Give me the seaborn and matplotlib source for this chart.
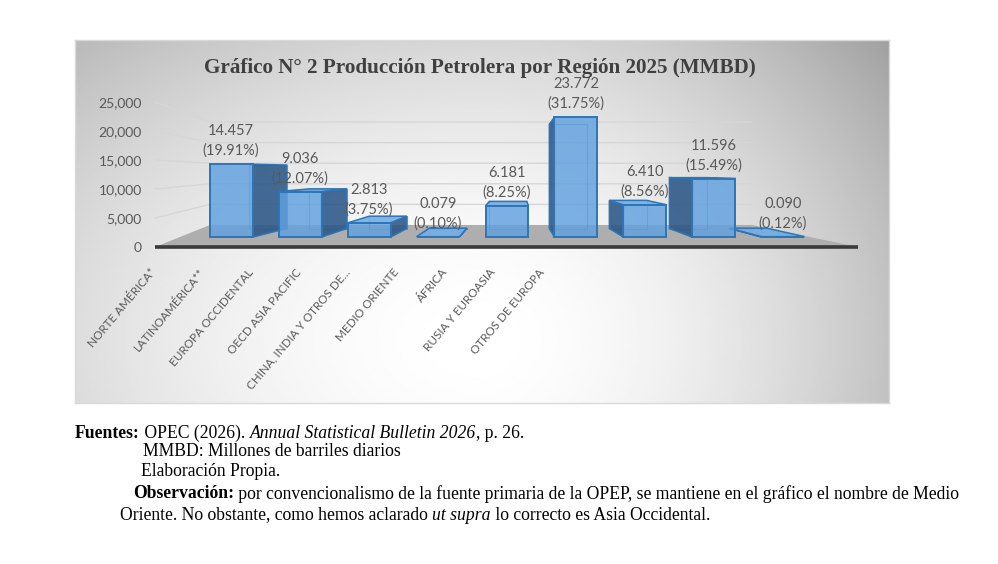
import numpy as np
import matplotlib
matplotlib.use('Agg')
import matplotlib.pyplot as plt
from matplotlib.patches import Polygon, Rectangle
import seaborn as sns

# ---- data (miles de barriles diarios) ----
regions = ["NORTE AMÉRICA*", "LATINOAMÉRICA**", "EUROPA OCCIDENTAL", "OECD ASIA PACIFIC",
           "CHINA, INDIA Y OTROS DE...", "MEDIO ORIENTE", "ÁFRICA", "RUSIA Y EUROASIA",
           "OTROS DE EUROPA"]
production = [14457, 9036, 2813, 79, 6181, 23772, 6410, 11596, 90]
shares = [19.91, 12.07, 3.75, 0.10, 8.25, 31.75, 8.56, 15.49, 0.12]
y_ticks = [0, 5000, 10000, 15000, 20000, 25000]

title = "Gráfico N° 2 Producción Petrolera por Región 2025 (MMBD)"

# ---- look ----
FRONT = (0.38, 0.63, 0.88, 0.82)
TOPC = (0.45, 0.68, 0.90, 0.9)
SIDE = (0.17, 0.34, 0.53, 0.88)
EDGE = '#2E75B6'
GREY_TXT = '#595959'

W, H = 998, 564
def fx(px):
    return px / W
def fy(py):
    return 1 - py / H

# pixel mapping of the axis plane (layout only)
X0_PX, X_STEP = 188.6, 79.3
Y0_PX, Y_SCALE = 247, 5.8 / 1000

# fake 3D: points are pulled toward a vanishing point
VX, VY = 4.116, 13100
D_FRONT, D_BACK, D_WALL = 0.87, 0.757, 0.71
FLOOR_X = (-0.424, 8.44)
BACK_X = ((210 - X0_PX) / X_STEP, (752 - X0_PX) / X_STEP)

def proj(x, y, d):
    return VX + d * (x - VX), VY + d * (y - VY)

sns.set_style("white")
plt.rcParams['font.family'] = ['Lato', 'DejaVu Sans']

fig = plt.figure(figsize=(W / 100, H / 100), dpi=100)
fig.patch.set_facecolor('white')

# chart area background: soft radial gradient, darker toward the right
bg = fig.add_axes([fx(75), fy(403), (889 - 75) / W, (403 - 40) / H])
gx, gy = np.meshgrid(np.linspace(75, 889, 400), np.linspace(40, 403, 200))
rx = np.where(gx < 480, 600, 440)
r = np.sqrt(((gx - 480) / rx) ** 2 + ((gy - 340) / 400) ** 2)
shade = 1 - 0.27 * np.clip(r, 0, 1.2) ** 1.8
bg.imshow(shade, cmap='gray', vmin=0, vmax=1, aspect='auto', interpolation='bilinear')
bg.set_xticks([])
bg.set_yticks([])
for s in bg.spines.values():
    s.set_color('#D9D9D9')
    s.set_linewidth(1)

ax = fig.add_axes([fx(150), fy(403), (889 - 150) / W, (403 - 40) / H])
ax.set_zorder(2)
ax.patch.set_alpha(0)

sns.barplot(x=regions, y=production, color=FRONT[:3], width=0.623, saturation=1, ax=ax)

ax.set_xlim((150 - X0_PX) / X_STEP, (889 - X0_PX) / X_STEP)
ax.set_ylim((Y0_PX - 403) / Y_SCALE, (Y0_PX - 40) / Y_SCALE)

# floor
fl0, fl1 = FLOOR_X
bk0, bk1 = BACK_X
wall_y0 = proj(0, 0, D_WALL)[1]
floor = [(fl0, 0), (fl1, 0), (bk1, wall_y0), (bk0, wall_y0)]
ax.add_patch(Polygon(floor, closed=True, fc='#AEAEAE', ec='none', zorder=1.5))
ax.plot([fl0, fl1], [0, 0], color='#3A3A3A', lw=2.6, zorder=1.6, solid_capstyle='butt')

# gridlines on side wall + back wall
for t in y_ticks[1:]:
    wy = proj(0, t, D_WALL)[1]
    ax.plot([fl0, bk0, bk1], [t, wy, wy], color='#D6D6D6', lw=1, zorder=1)

# bars
bars = [p for p in ax.patches if isinstance(p, Rectangle)]
for i, (rect, h) in enumerate(zip(bars, production)):
    x0 = rect.get_x()
    x1 = x0 + rect.get_width()
    z = 3 + 0.1 * (10 - abs(i - VX))
    fx0, fy0 = proj(x0, 0, D_FRONT)
    fx1, fy1 = proj(x1, h, D_FRONT)
    bx0, by0 = proj(x0, 0, D_BACK)
    bx1, by1 = proj(x1, h, D_BACK)
    ax.add_patch(Rectangle((bx0, by0), bx1 - bx0, by1 - by0, fill=False, ec=EDGE,
                           lw=0.8, alpha=0.6, zorder=z))
    if VX > x1:
        side = [(fx1, fy0), (fx1, fy1), (bx1, by1), (bx1, by0)]
    elif VX < x0:
        side = [(fx0, fy0), (fx0, fy1), (bx0, by1), (bx0, by0)]
    else:
        side = None
    if side:
        ax.add_patch(Polygon(side, closed=True, fc=SIDE, ec=EDGE, lw=1.1, zorder=z + 0.01))
    if by1 > fy1:
        top = [(fx0, fy1), (fx1, fy1), (bx1, by1), (bx0, by1)]
        ax.add_patch(Polygon(top, closed=True, fc=TOPC, ec=EDGE, lw=1.1, zorder=z + 0.015))
    rect.set_xy((fx0, fy0))
    rect.set_width(fx1 - fx0)
    rect.set_height(fy1 - fy0)
    rect.set_facecolor(FRONT)
    rect.set_edgecolor(EDGE)
    rect.set_linewidth(1.4)
    rect.set_zorder(z + 0.02)

    ax.annotate(f"{h / 1000:.3f}\n({shares[i]:.2f}%)", ((fx0 + fx1) / 2, fy1), xytext=(0, 4.5),
                textcoords='offset points', ha='center', va='bottom', fontsize=10.5,
                color=GREY_TXT, linespacing=1.45, zorder=10, annotation_clip=False)

# category labels, placed along the floor edge as in the source chart
ax.set_xticks([])
ax.set_xlabel('')
for i, name in enumerate(regions):
    px = 154 + 48.5 * i
    ax.text((px - X0_PX) / X_STEP, (Y0_PX - 270) / Y_SCALE, name, rotation=50,
            rotation_mode='anchor', ha='right', va='center', fontsize=8.4,
            color=GREY_TXT, clip_on=False)

ax.set_yticks(y_ticks)
ax.set_yticklabels([f"{t:,}" for t in y_ticks])
ax.tick_params(axis='y', length=0, pad=5.8, labelsize=10, labelcolor=GREY_TXT)
ax.set_ylabel('')
for s in ax.spines.values():
    s.set_visible(False)

fig.text(fx(480), fy(68), title, ha='center', va='center', fontsize=15.2,
         family='Liberation Serif', weight='bold', color='#404040')

# footnotes
renderer = fig.canvas.get_renderer()
def text_runs(x_px, y_px, runs, size=12.7):
    x = fx(x_px)
    for s, weight, style in runs:
        t = fig.text(x, fy(y_px), s, fontsize=size, family='Liberation Serif',
                     weight=weight, style=style, ha='left', va='center', color='black')
        bb = t.get_window_extent(renderer=renderer)
        x = bb.x1 / W

text_runs(75, 433, [("Fuentes:", 'bold', 'normal'), (" OPEC (2026). ", 'normal', 'normal'),
                    ("Annual Statistical Bulletin 2026", 'normal', 'italic'),
                    (", p. 26.", 'normal', 'normal')])
text_runs(143, 452, [("MMBD: Millones de barriles diarios", 'normal', 'normal')])
text_runs(141, 472, [("Elaboración Propia.", 'normal', 'normal')])
text_runs(133, 494, [("Observación:", 'bold', 'normal'),
                     (" por convencionalismo de la fuente primaria de la OPEP, se mantiene en el gráfico el nombre de Medio",
                      'normal', 'normal')])
text_runs(120, 515, [("Oriente. No obstante, como hemos aclarado ", 'normal', 'normal'),
                     ("ut supra", 'normal', 'italic'),
                     (" lo correcto es Asia Occidental.", 'normal', 'normal')])

fig.savefig('out.png', dpi=100)
